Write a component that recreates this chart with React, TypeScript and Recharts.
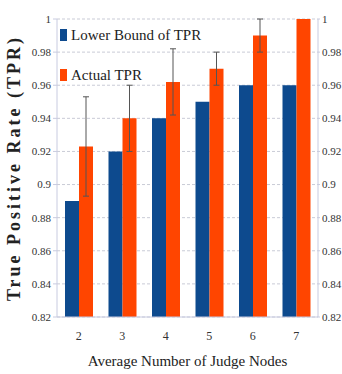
import React from "react";
import {
  Bar,
  BarChart,
  CartesianGrid,
  ErrorBar,
  Label,
  XAxis,
  YAxis,
} from "recharts";

const nodes = ["2", "3", "4", "5", "6", "7"];
const lowerBound = [0.89, 0.92, 0.94, 0.95, 0.96, 0.96];
const actualTpr = [0.923, 0.94, 0.962, 0.97, 0.99, 1.0];
const actualErr = [0.03, 0.02, 0.02, 0.01, 0.01, 0];
const yTicks = [0.82, 0.84, 0.86, 0.88, 0.9, 0.92, 0.94, 0.96, 0.98, 1];
const legendItems = [
  { color: "#0d4a8e", label: "Lower Bound of TPR" },
  { color: "#ff4500", label: "Actual TPR" },
];

const BLUE = "#0d4a8e";
const ORANGE = "#ff4500";
const FONT = "'Liberation Serif', 'Liberation Sans Narrow', 'DejaVu Serif', serif";
const NARROW = "'Liberation Sans Narrow', 'Liberation Serif', 'DejaVu Sans Condensed', sans-serif";

const fmt = (v: number) => String(Number(v.toFixed(2)));

function LegendBox() {
  return (
    <div
      style={{
        position: "absolute",
        left: 60,
        top: 15,
        fontFamily: FONT,
        fontSize: 15,
        color: "#222",
        pointerEvents: "none",
      }}
    >
      {legendItems.map((r) => (
        <div
          key={r.label}
          style={{ display: "flex", alignItems: "center", height: 40 }}
        >
          <span
            style={{
              display: "inline-block",
              width: 7,
              height: 12,
              background: r.color,
              marginRight: 4,
            }}
          />
          <span>{r.label}</span>
        </div>
      ))}
    </div>
  );
}

export default function App() {
  const data = nodes.map((n, i) => ({
    n,
    lower: lowerBound[i],
    actual: actualTpr[i],
    err: actualErr[i],
  }));
  const tick = { fontFamily: NARROW, fontSize: 11, fill: "#333" };
  return (
    <div
      style={{
        position: "absolute",
        left: 0,
        top: 0,
        width: 342,
        height: 374,
        background: "#fff",
      }}
    >
      <BarChart
        width={342}
        height={374}
        data={data}
        margin={{ top: 19, right: 0, left: 0, bottom: 0 }}
        barSize={14}
        barGap={0}
      >
        <CartesianGrid
          vertical={false}
          stroke="#c9cbd6"
          strokeDasharray="3 2"
          yAxisId="left"
        />
        <XAxis
          dataKey="n"
          height={57}
          tick={{ ...tick, fontSize: 12 }}
          tickLine={false}
          axisLine={{ stroke: "#c8cbe0" }}
          tickMargin={8}
        >
          <Label
            value="Average Number of Judge Nodes"
            position="insideBottom"
            offset={8}
            style={{ fontFamily: FONT, fontSize: 15, fill: "#222" }}
          />
        </XAxis>
        <YAxis
          yAxisId="left"
          width={57}
          domain={[0.82, 1]}
          ticks={yTicks}
          tickFormatter={fmt}
          tick={tick}
          tickLine={{ stroke: "#c8cbe0" }}
          tickSize={4}
          axisLine={{ stroke: "#c8cbe0" }}
          allowDataOverflow
        >
          <Label
            value="True Positive Rate (TPR)"
            angle={-90}
            position="insideLeft"
            offset={14}
            style={{
              fontFamily: FONT,
              fontSize: 18,
              fontWeight: "bold",
              fill: "#222",
              letterSpacing: 3,
              textAnchor: "middle",
            }}
          />
        </YAxis>
        <YAxis
          yAxisId="right"
          orientation="right"
          width={24}
          domain={[0.82, 1]}
          ticks={yTicks}
          tickFormatter={fmt}
          tick={tick}
          tickLine={{ stroke: "#c8cbe0" }}
          tickSize={2}
          axisLine={{ stroke: "#c8cbe0" }}
          allowDataOverflow
        />
        <Bar
          yAxisId="left"
          dataKey="lower"
          fill={BLUE}
          isAnimationActive={false}
        />
        <Bar
          yAxisId="left"
          dataKey="actual"
          fill={ORANGE}
          isAnimationActive={false}
        >
          <ErrorBar dataKey="err" width={3} stroke="#555" strokeWidth={1} />
        </Bar>
      </BarChart>
      <LegendBox />
    </div>
  );
}
